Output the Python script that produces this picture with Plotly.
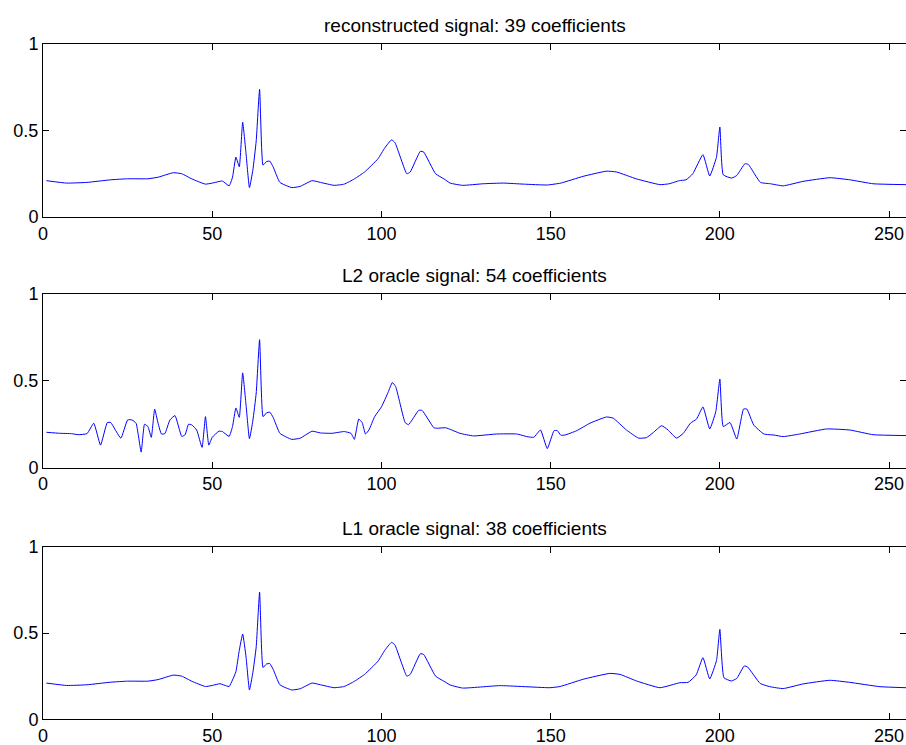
import plotly.graph_objects as go

# ---- data ----
rec_x = [1, 7, 13, 20, 25, 31, 34, 38.5, 41, 44, 48, 50, 53, 55, 56, 57, 58, 59, 60, 61, 62, 63, 64, 65, 66, 67, 68, 70,
         73.5, 76, 79.5, 82, 86, 89, 92, 95, 99, 101, 103, 104, 107.5, 108.5, 111.5, 112.5, 116, 118.5, 120.3, 124,
         130, 136, 142, 149, 153, 159.6, 166.5, 169.5, 175.4, 182.3, 185, 188, 190, 192, 195, 197, 199, 200, 201,
         203.5, 205, 207.4, 208.4, 212, 215, 218.7, 224.6, 232.5, 238.4, 245.3, 255]
rec_y = [0.21, 0.196, 0.20, 0.215, 0.221, 0.221, 0.23, 0.256, 0.25, 0.22, 0.19, 0.196, 0.208, 0.18, 0.23, 0.346, 0.29,
         0.548, 0.365, 0.17, 0.27, 0.44, 0.738, 0.30, 0.32, 0.323, 0.29, 0.20,
         0.17, 0.177, 0.21, 0.20, 0.183, 0.19, 0.22, 0.26, 0.337, 0.40, 0.446, 0.43, 0.25, 0.26, 0.38, 0.375, 0.25,
         0.22, 0.196, 0.183,
         0.192, 0.196, 0.19, 0.185, 0.196, 0.235, 0.265, 0.26, 0.22, 0.187, 0.192, 0.21, 0.215, 0.25, 0.36, 0.237,
         0.346, 0.52, 0.244,
         0.225, 0.24, 0.308, 0.304, 0.20, 0.192, 0.18, 0.206, 0.227, 0.215, 0.192, 0.187]

l2_x = [1, 5, 8.4, 10.4, 13, 15, 17, 19, 20, 23, 25, 26.3, 27.5, 29, 30, 31, 32, 33, 34, 35, 36, 37.5, 39, 41, 42, 43,
        44, 45.4, 47, 48, 49, 50, 52, 53, 55, 56, 57, 58, 59, 60, 61, 62, 63, 64, 65, 66, 67, 68, 70, 73.5, 76, 79.5,
        82, 85.4, 89, 91, 92, 93.3, 94.3, 95.3, 96.3, 98, 100, 102, 103.2, 104.2, 107, 108, 111, 112, 115.5, 116.5,
        119, 123.2, 127.2, 134, 140, 143, 145, 147, 149, 151, 152, 153, 154.2, 157.7, 161.6, 166.5, 168.5, 172.4,
        176, 178.3, 180.3, 182.8, 184.7, 187.2, 189.2, 191.3, 193.1, 195, 197, 198.8, 200, 201, 203, 205, 207, 208,
        210, 213, 216, 218.7, 223.6, 231.5, 238.4, 245.3, 255]
l2_y = [0.204, 0.198, 0.196, 0.19, 0.196, 0.256, 0.13, 0.26, 0.26, 0.17, 0.275, 0.275, 0.256, 0.09, 0.25, 0.237,
        0.175, 0.337, 0.256, 0.194, 0.196, 0.275, 0.30, 0.18, 0.19, 0.25,
        0.246, 0.217, 0.117, 0.294, 0.13, 0.175, 0.21, 0.208, 0.18, 0.237, 0.344, 0.29, 0.546, 0.36, 0.167, 0.27,
        0.43, 0.737, 0.294, 0.315, 0.32, 0.29, 0.198, 0.163, 0.17, 0.21,
        0.20, 0.198, 0.208, 0.198, 0.163, 0.28, 0.26, 0.194, 0.217, 0.294, 0.35, 0.435, 0.49, 0.467, 0.26, 0.248,
        0.33, 0.33, 0.23, 0.227,
        0.23, 0.198, 0.183, 0.194, 0.194, 0.179, 0.175, 0.217, 0.11, 0.213, 0.213, 0.187, 0.188, 0.213, 0.256,
        0.292, 0.285, 0.217,
        0.17, 0.173, 0.202, 0.242, 0.217, 0.17, 0.198, 0.256, 0.28, 0.35, 0.223, 0.323, 0.51, 0.237, 0.26, 0.165,
        0.338, 0.337,
        0.246, 0.194, 0.188, 0.179, 0.194, 0.223, 0.217, 0.19, 0.185]

l1_x = [1, 7, 13, 20, 25, 31, 34, 38.5, 41, 44, 48, 50, 52.3, 54.3, 55, 56, 57, 58, 59, 60, 61, 62, 63, 64, 65, 66, 67,
        68, 70, 73.5, 76, 79.5, 82, 86, 89, 92, 95, 99, 101, 103, 104, 107.5, 108.5, 111.5, 112.5, 116, 118.5, 120.3,
        124, 135, 149.8, 152.8, 159.6, 167.5, 170.5, 175.4, 182.3, 188.2, 190.6, 193, 195, 197, 199, 200, 201.2,
        203.4, 205, 207.2, 208.2, 211.9, 214.8, 218.7, 224.6, 232.5, 238.4, 247.3, 255]
l1_y = [0.21, 0.196, 0.20, 0.215, 0.221, 0.221, 0.23, 0.256, 0.25, 0.22, 0.19, 0.196, 0.206, 0.193, 0.19, 0.228,
        0.276, 0.40, 0.494, 0.36, 0.17, 0.27, 0.42, 0.737, 0.30, 0.32, 0.323,
        0.29, 0.20, 0.17, 0.177, 0.21, 0.20, 0.183, 0.19, 0.22, 0.26, 0.337, 0.40, 0.446, 0.43, 0.25, 0.26, 0.38,
        0.375, 0.25, 0.22, 0.199,
        0.181, 0.195, 0.183, 0.19, 0.232, 0.266, 0.26, 0.222, 0.183, 0.212, 0.214, 0.257, 0.357, 0.234, 0.34, 0.521,
        0.241,
        0.222, 0.237, 0.309, 0.303, 0.208, 0.189, 0.178, 0.205, 0.226, 0.214, 0.189, 0.183]

titles = ["reconstructed signal: 39 coefficients",
          "L2 oracle signal: 54 coefficients",
          "L1 oracle signal: 38 coefficients"]
x_ticks = [0, 50, 100, 150, 200, 250]
y_ticks = [0, 0.5, 1]
y_tick_text = ["0", "0.5", "1"]

series = [(rec_x, rec_y), (l2_x, l2_y), (l1_x, l1_y)]

# ---- layout ----
W, H = 906, 745
# pixel (top, bottom) of each panel box
boxes = [(44, 217), (294, 467.7), (546.7, 719.3)]

FONT = "Liberation Sans, Arial, Helvetica, sans-serif"
fig = go.Figure()
layout = dict(width=W, height=H, margin=dict(l=43, r=0, t=0, b=0, autoexpand=False),
              plot_bgcolor="white", paper_bgcolor="white", showlegend=False,
              font=dict(family=FONT, size=18, color="black"))
annotations = []
for i, ((sx, sy), (top, bot)) in enumerate(zip(series, boxes)):
    n = "" if i == 0 else str(i + 1)
    fig.add_trace(go.Scatter(x=sx, y=sy, mode="lines",
                             line=dict(color="#0000ff", width=1, shape="spline", smoothing=0.4),
                             xaxis="x" + n, yaxis="y" + n, hoverinfo="skip"))
    dom = [(H - bot) / H, (H - top) / H]
    layout["xaxis" + n] = dict(domain=[0, 1], range=[0, 255], anchor="y" + n, automargin=False,
                               tickvals=x_ticks, ticks="inside", ticklen=6, tickcolor="black",
                               showline=True, linecolor="black", linewidth=1, mirror="ticks",
                               showgrid=False, zeroline=False,
                               tickfont=dict(family=FONT, size=18, color="black"))
    layout["yaxis" + n] = dict(domain=dom, range=[0, 1], anchor="x" + n, automargin=False,
                               tickvals=y_ticks, ticktext=y_tick_text, ticks="inside", ticklen=6,
                               tickcolor="black", showline=True, linecolor="black", linewidth=1,
                               mirror="ticks", showgrid=False, zeroline=False,
                               tickfont=dict(family=FONT, size=18, color="black"))
    annotations.append(dict(text=titles[i], xref="paper", yref="paper", x=0.5, y=dom[1],
                            xanchor="center", yanchor="bottom", yshift=6, showarrow=False,
                            font=dict(family=FONT, size=19, color="black")))
layout["annotations"] = annotations
fig.update_layout(**layout)

fig.write_html("out.html")
